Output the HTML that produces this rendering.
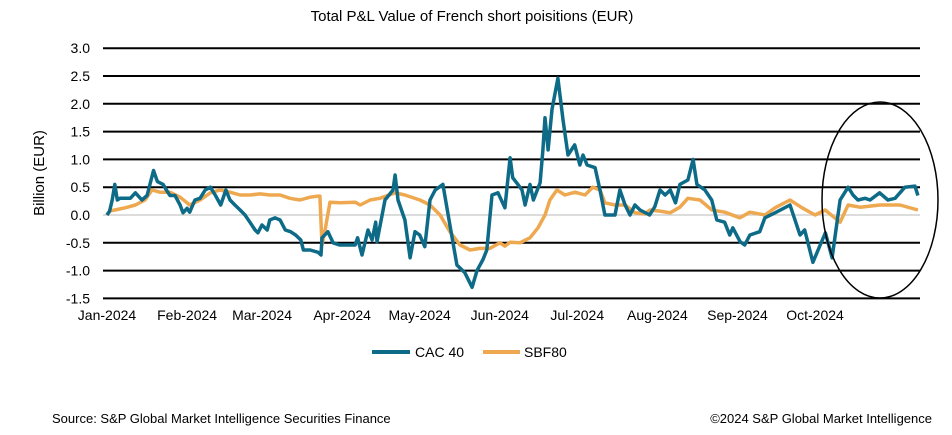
<!DOCTYPE html>
<html><head><meta charset="utf-8"><style>
body{margin:0;background:#fff;}
svg{display:block;font-family:"Liberation Sans",Arial,sans-serif;}
</style></head><body>
<svg id="chart" width="952" height="435">
<text x="472" y="21" text-anchor="middle" font-size="15" fill="#000">Total P&amp;L Value  of French short poisitions (EUR)</text>
<text transform="translate(44,173) rotate(-90)" text-anchor="middle" font-size="15" fill="#000">Billion (EUR)</text>
<g id="grid"></g><g id="yt"></g><g id="xt"></g><g id="series"></g>
<ellipse cx="880" cy="200" rx="58" ry="98" fill="none" stroke="#000" stroke-width="1.5"/>
<g><line x1="372" y1="352" x2="410" y2="352" stroke="#0e6b87" stroke-width="4"/><text x="415" y="357" font-size="14">CAC 40</text></g>
<g><line x1="483" y1="352" x2="520" y2="352" stroke="#eea84f" stroke-width="4"/><text x="524" y="357" font-size="14">SBF80</text></g>
<text x="52" y="423" font-size="13">Source: S&amp;P Global Market Intelligence Securities Finance</text>
<text x="932" y="423" font-size="13" text-anchor="end">©2024 S&amp;P Global Market Intelligence</text>
</svg>
<script>
const yTicks=[3.0,2.5,2.0,1.5,1.0,0.5,0.0,-0.5,-1.0,-1.5];
const monthLabels=["Jan-2024","Feb-2024","Mar-2024","Apr-2024","May-2024","Jun-2024","Jul-2024","Aug-2024","Sep-2024","Oct-2024"];
const monthDays=[0,31,60,91,121,152,182,213,244,274];
const cacDays=[0,1,2,3,4,5,9,11,13.5,15.5,18,19.5,21.7,23,24.4,26.3,28.3,29.4,31,32,34,36,38,40,42,44,46,47.6,49.5,51.5,53.4,55.3,57.3,58.4,60,62,63,65,67,69,71,73,75,76,78.6,81.7,82.8,83.2,85.5,87.5,90,96,97,98.7,101,102.6,104,104.5,107.6,110.7,111.5,112.6,115.3,117.3,119.2,121,123,125,127,130,132.7,135.4,138.5,141.3,143.2,145.5,147,149,151.3,154,156,157,159,160.6,161.8,163.7,165,167.6,168.7,169.5,170.7,172.2,174.5,176.5,178.4,181,183,184.2,185.8,188.9,190.8,192.7,196.6,198.5,200.5,202.4,204.3,206.3,210,212,214,216,218,220,221.7,224.8,226.8,228.3,231.4,234,236,239,241,242.2,245,246.8,248.8,252.6,254.6,258.5,264.3,268.2,270,273.2,276,278,280.6,283.7,286.8,288.7,290.6,293.4,295.3,299,302.2,305,308.8,312.7,313.8];
const cacValues=[0,0.07,0.27,0.55,0.27,0.3,0.3,0.4,0.27,0.35,0.8,0.6,0.55,0.45,0.35,0.35,0.18,0.04,0.12,0.05,0.27,0.3,0.45,0.5,0.35,0.18,0.45,0.27,0.18,0.09,0,-0.13,-0.27,-0.32,-0.18,-0.27,-0.09,-0.05,-0.09,-0.27,-0.3,-0.36,-0.45,-0.63,-0.63,-0.67,-0.72,-0.41,-0.3,-0.5,-0.54,-0.54,-0.41,-0.72,-0.27,-0.45,-0.13,-0.48,0.27,0.45,0.72,0.27,-0.09,-0.77,-0.3,-0.36,-0.57,0.27,0.45,0.55,-0.18,-0.9,-1.04,-1.3,-1.0,-0.8,-0.63,0.36,0.4,0.13,1.03,0.67,0.55,0.45,0.18,0.55,0.27,0.58,1.17,1.75,1.17,1.9,2.46,1.7,1.08,1.26,0.9,1.08,0.9,0.85,0.45,0,0,0.45,0.18,0,0.18,0.09,0,0.15,0.45,0.36,0.45,0.22,0.55,0.63,1.0,0.55,0.45,0.27,-0.09,-0.13,-0.36,-0.23,-0.48,-0.54,-0.36,-0.3,-0.05,0.04,0.18,-0.36,-0.27,-0.85,-0.54,-0.32,-0.77,0.27,0.5,0.36,0.27,0.3,0.27,0.4,0.27,0.3,0.5,0.52,0.35];
const sbfDays=[0,1,3,7,11,14.7,17.4,20.5,24.4,28.3,32,36,40,43.7,47.6,51.5,55.3,59.2,63,67,70.8,74.7,78.6,81.7,82.4,83.2,84.4,86.3,90.2,96,98,101.8,105.6,111.5,115.3,121.1,125,128.9,132.7,136.6,140.5,144.3,148.2,152,154,156,159.8,163.7,166.8,169.5,171.4,174.1,177.2,181.1,185,188,190.8,192.7,196.6,200.5,204.3,208.2,210.1,214,217.9,221.7,224.8,229.5,234.1,239.1,244.9,248.8,254.6,258.5,264.3,269,274,277.9,283.7,286.8,291.4,299.1,306.9,313.8];
const sbfValues=[0,0.07,0.09,0.13,0.18,0.27,0.45,0.41,0.41,0.32,0.18,0.27,0.4,0.45,0.41,0.36,0.36,0.38,0.36,0.36,0.3,0.27,0.32,0.34,0.34,-0.54,-0.27,0.23,0.22,0.23,0.18,0.27,0.3,0.4,0.36,0.27,0.18,0,-0.3,-0.54,-0.63,-0.6,-0.6,-0.5,-0.56,-0.49,-0.5,-0.41,-0.23,0,0.27,0.45,0.36,0.41,0.36,0.5,0.45,0.22,0.18,0.18,0.04,0.02,0.09,0.07,0.04,0.14,0.3,0.27,0.09,0.05,-0.05,0.05,0,0.13,0.27,0.13,0,0.09,-0.13,0.18,0.14,0.18,0.18,0.09];
const NS="http://www.w3.org/2000/svg";
const X0=107,PXD=2.584,Y0=215,PXV=55.6,XL=103,XR=920;
function xS(d){return X0+d*PXD;}
function yS(v){return Y0-v*PXV;}
function mk(t,a,p){const e=document.createElementNS(NS,t);for(const k in a)e.setAttribute(k,a[k]);p.appendChild(e);return e;}
const grid=document.getElementById('grid'),yt=document.getElementById('yt'),xt=document.getElementById('xt'),ser=document.getElementById('series');
yTicks.forEach(v=>{
 const l=mk('line',{x1:XL,x2:XR,y1:yS(v),y2:yS(v),stroke:v===0?'#d0d0d0':'#000','stroke-width':v===0?1.5:2},grid);
 
 
 const t=mk('text',{x:90,y:yS(v)+5,'text-anchor':'end','font-size':14},yt);
 t.textContent=v.toFixed(1);
 
 
});
monthLabels.forEach((m,i)=>{
 const t=mk('text',{x:xS(monthDays[i]),y:320,'text-anchor':'middle','font-size':14},xt);
 t.textContent=m;
 
 
});
function line(days,vals,color,name){
 const d=days.map((x,i)=>(i?'L':'M')+xS(x).toFixed(1)+','+yS(vals[i]).toFixed(1)).join('');
 const p=mk('path',{d:d,fill:'none',stroke:color,'stroke-width':3.5,'stroke-linejoin':'round'},ser);
 
 
}
line(sbfDays,sbfValues,'#eea84f','sbf80-line');
line(cacDays,cacValues,'#0e6b87','cac40-line');
</script>
</body></html>
